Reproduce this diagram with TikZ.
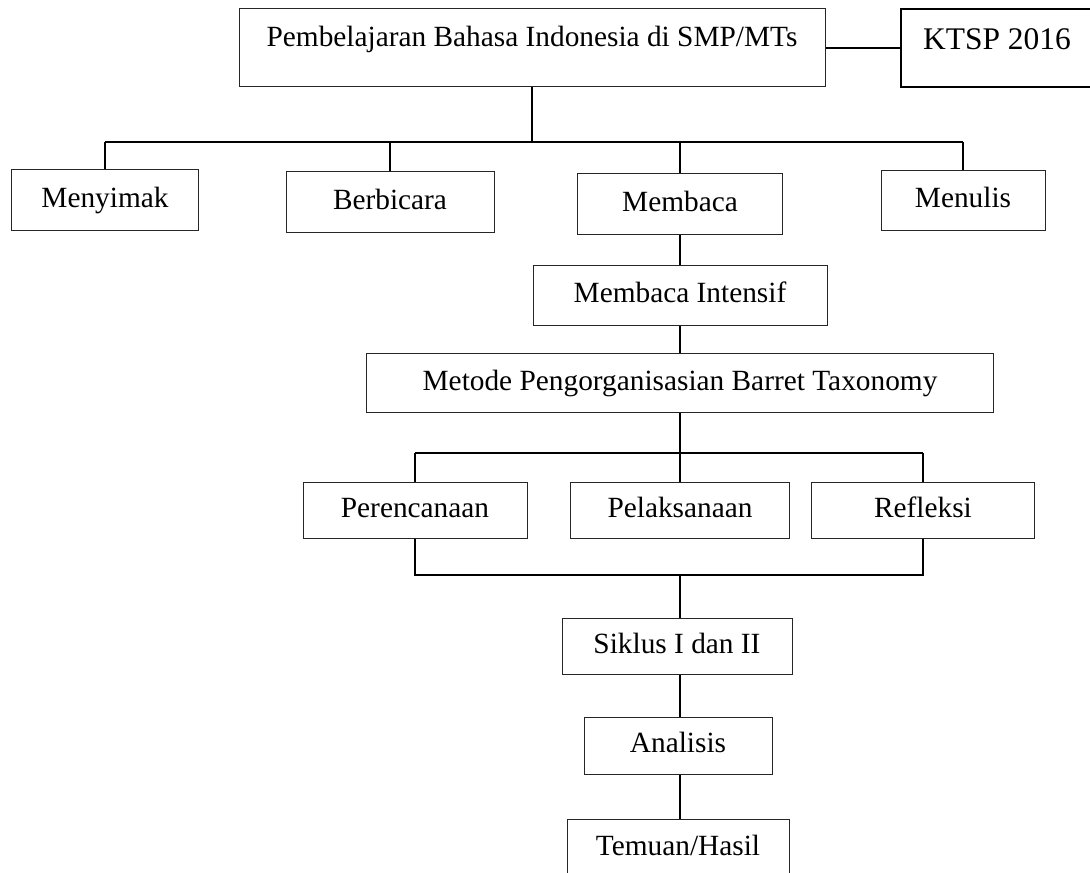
\documentclass[tikz,border=0pt]{standalone}
\usepackage{fontspec}
\setmainfont{Liberation Serif}
\begin{document}
\begin{tikzpicture}[x=0.75pt,y=-0.75pt,
  bx/.style 2 args={draw=black!85, line width=0.75pt, rectangle, inner sep=0pt,
     minimum width=#1*0.75pt, minimum height=#2*0.75pt,
     font=\fontsize{22pt}{26pt}\selectfont, text height=15.4pt, text depth=5.5pt},
  conn/.style={line width=1.2pt, black}
]
\useasboundingbox (0,0) rectangle (1090,873);
\clip (0,0) rectangle (1090,873);
\fill[white] (0,0) rectangle (1090,873);

% boxes
\node[bx={586}{78}, text depth=16.9pt] (top) at (532,48) {Pembelajaran Bahasa Indonesia di SMP/MTs};
\node[bx={192}{78}, line width=1.3pt, draw=black, font=\fontsize{23.6pt}{28pt}\selectfont, text height=16.5pt, text depth=13.5pt] (ktsp) at (997,48) {KTSP 2016};
\node[bx={187}{61}] (mny) at (105,200.5) {Menyimak};
\node[bx={208}{61}] (bbc) at (390,202.5) {Berbicara};
\node[bx={205}{61}] (mbc) at (680,204.5) {Membaca};
\node[bx={164}{60}] (mnl) at (963,201) {Menulis};
\node[bx={294}{60}] (mbi) at (680,296) {Membaca Intensif};
\node[bx={627}{59}] (mtd) at (680,383.5) {Metode Pengorganisasian Barret Taxonomy};
\node[bx={224}{56}] (prc) at (415,511) {Perencanaan};
\node[bx={219}{56}] (plk) at (680,511) {Pelaksanaan};
\node[bx={223}{56}] (rfl) at (923,511) {Refleksi};
\node[bx={230}{56}] (sik) at (677,647) {Siklus I dan II};
\node[bx={188}{57}] (ana) at (678,745.5) {Analisis};
\node[bx={222}{60}] (tem) at (678,849) {Temuan/Hasil};

% junction coordinates
\coordinate (j1) at (533,142);
\coordinate (j2) at (680,453);
\coordinate (j3) at (680,575);

% connectors
\draw[conn] (top.east) -- (ktsp.west);
\draw[conn] (top.south) -- (top.south |- j1);
\draw[conn] (mny.north |- j1) -- (mnl.north |- j1);
\foreach \n in {mny,bbc,mbc,mnl} \draw[conn] (\n.north |- j1) -- (\n.north);
\draw[conn] (mbi.north) -- (mbi.north |- mbc.south);
\draw[conn] (mbi.south) -- (mbi.south |- mtd.north);
\draw[conn] (j2 |- mtd.south) -- (j2);
\draw[conn] (prc.north |- j2) -- (rfl.north |- j2);
\foreach \n in {prc,plk,rfl} \draw[conn] (\n.north |- j2) -- (\n.north);
\draw[conn] (prc.south) -- (prc.south |- j3) -- (rfl.south |- j3) -- (rfl.south);
\draw[conn] (j3) -- (j3 |- sik.north);
\draw[conn] (j3 |- sik.south) -- (j3 |- ana.north);
\draw[conn] (j3 |- ana.south) -- (j3 |- tem.north);
\end{tikzpicture}
\end{document}
